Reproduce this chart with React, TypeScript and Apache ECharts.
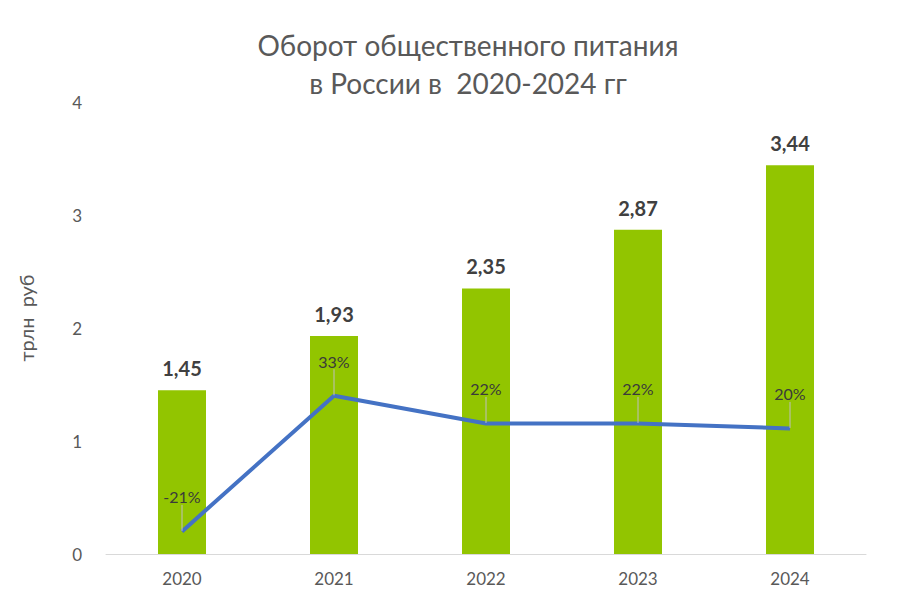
import React, { useEffect, useRef } from "react";
import * as echarts from "echarts";

const years = ["2020", "2021", "2022", "2023", "2024"];
const turnover = [1.45, 1.93, 2.35, 2.87, 3.44];
const growthPct = [-21, 33, 22, 22, 20];
const yTicks = [0, 1, 2, 3, 4];

export default function App() {
  const ref = useRef<HTMLDivElement>(null);
  useEffect(() => {
    if (!ref.current) return;
    const chart = echarts.init(ref.current, null, { renderer: "svg" });
    const font = "Lato, 'Open Sans', sans-serif";
    chart.setOption({
      animation: false,
      backgroundColor: "#ffffff",
      textStyle: { fontFamily: font },
      title: {
        text: "Оборот общественного питания\nв России в  2020-2024 гг",
        left: 455,
        textAlign: "center",
        top: 13,
        textStyle: {
          fontFamily: font,
          fontSize: 28,
          fontWeight: "normal",
          color: "#595959",
          lineHeight: 38,
        },
      },
      grid: { left: 98, right: 26, top: 94, bottom: 43, containLabel: false },
      xAxis: {
        type: "category",
        data: years,
        axisLine: { lineStyle: { color: "#d9d9d9", width: 1 } },
        axisTick: { show: false },
        axisLabel: { color: "#595959", fontSize: 17, margin: 16, fontFamily: font },
      },
      yAxis: [
        {
          type: "value",
          min: yTicks[0],
          max: yTicks[yTicks.length - 1],
          interval: 1,
          name: "трлн  руб",
          nameLocation: "middle",
          nameGap: 70,
          nameRotate: 90,
          nameTextStyle: {
            color: "#595959",
            fontSize: 20,
            fontFamily: font,
            padding: [0, 0, 0, 20],
          },
          axisLine: { show: false },
          axisTick: { show: false },
          splitLine: { show: false },
          axisLabel: { color: "#595959", fontSize: 17, margin: 24, fontFamily: font },
        },
        {
          type: "value",
          min: -30,
          max: 150,
          show: false,
          splitLine: { show: false },
        },
      ],
      series: [
        {
          type: "bar",
          data: turnover,
          barWidth: 48,
          itemStyle: { color: "#92C500" },
          label: {
            show: true,
            position: "top",
            distance: 12,
            fontSize: 20,
            fontWeight: "bold",
            color: "#404040",
            fontFamily: font,
            formatter: (p: any) => String(p.value).replace(".", ","),
          },
        },
        {
          type: "line",
          yAxisIndex: 1,
          data: growthPct,
          symbol: "circle",
          symbolSize: 1,
          showSymbol: true,
          itemStyle: { color: "rgba(0,0,0,0)" },
          lineStyle: { color: "#4472C4", width: 4 },
          label: {
            show: true,
            position: "top",
            distance: 2,
            fontSize: 16,
            color: "#3a3a3a",
            opacity: 1,
            fontFamily: font,
            formatter: (p: any) => p.value + "%",
          },
          labelLayout: { dy: -24 },
          labelLine: { show: true, lineStyle: { color: "#bfbfbf", width: 1 } },
        },
      ],
    });
    return () => chart.dispose();
  }, []);
  return <div ref={ref} style={{ width: 884, height: 589 }} />;
}
